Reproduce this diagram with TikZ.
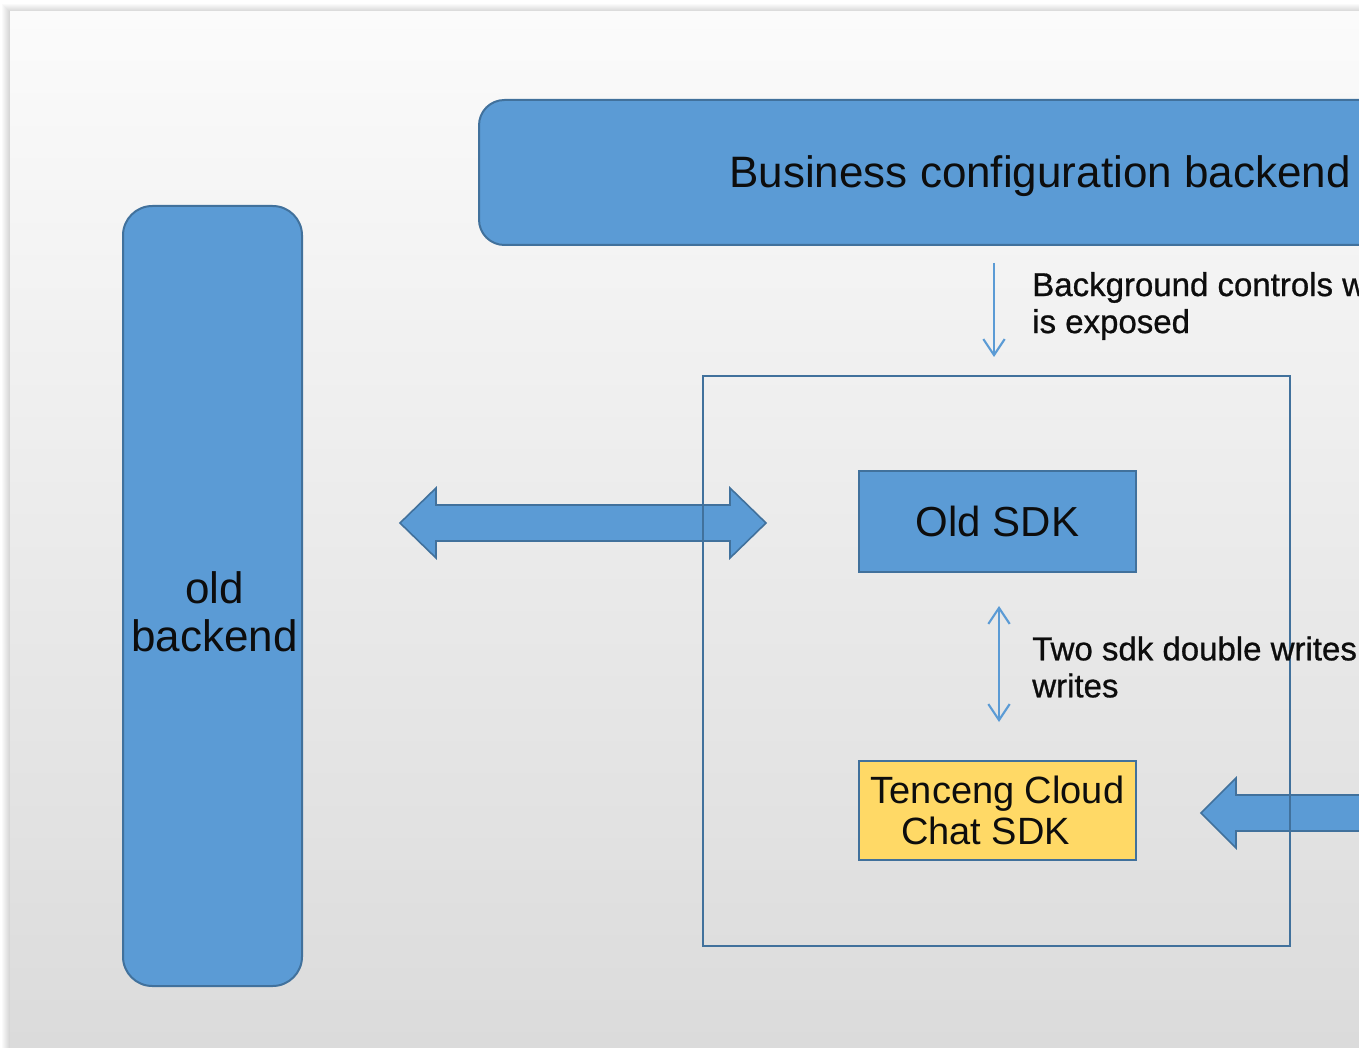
\documentclass[tikz,border=0pt]{standalone}
\usepackage{fontspec}
\setmainfont{Liberation Sans}
\newfontfamily\lblfont[FakeBold=0.8]{Liberation Sans}
\usetikzlibrary{arrows.meta}
\definecolor{boxblue}{HTML}{5B9BD5}
\definecolor{edgeblue}{HTML}{41719C}
\definecolor{sdkyellow}{HTML}{FFD966}
\definecolor{pagetop}{HTML}{FBFBFB}
\definecolor{pagemid}{HTML}{EEEEEE}
\definecolor{pagebot}{HTML}{DBDBDB}
\definecolor{txt}{HTML}{0D0D0D}
\tikzset{
  bluebox/.style={draw=edgeblue, fill=boxblue, line width=1.5pt, inner sep=0pt, text=txt},
  blockarrow/.style={draw=edgeblue, fill=boxblue, line width=1.2pt, line join=miter},
  thinarrow/.style={draw=boxblue, line width=1.6pt, arrows={-Straight Barb[length=12pt,width=16pt,line width=1.6pt]}},
  thinboth/.style={draw=boxblue, line width=1.6pt, arrows={Straight Barb[length=12pt,width=16pt,line width=1.6pt]-Straight Barb[length=12pt,width=16pt,line width=1.6pt]}},
  bigtext/.style={font=\fontsize{33}{36}\selectfont, text=txt},
  lbltext/.style={font=\lblfont\fontsize{24.75}{27.75}\selectfont, text=txt, align=left, inner sep=0pt, anchor=west},
}
\begin{document}
\begin{tikzpicture}[x=0.75pt,y=-0.75pt]
\useasboundingbox (0,0) rectangle (1359,1048);
\clip (0,0) rectangle (1359,1048);
% outside + shadow
\fill[white] (0,0) rectangle (1359,1048);
\foreach \i in {1,...,8} {
  \fill[black, opacity=0.018] (10-\i,12-\i) rectangle (1400,1100);
}
% page
\shade[top color=pagetop, middle color=pagemid, bottom color=pagebot] (10,12) rectangle (1359,1048);

% block arrows
\path[blockarrow] (400,523) -- (436,488) -- (436,505) -- (730,505) -- (730,488) -- (766,523)
  -- (730,558) -- (730,541) -- (436,541) -- (436,558) -- cycle;
\path[blockarrow] (1201,813) -- (1236,778) -- (1236,795) -- (1500,795) -- (1500,831)
  -- (1236,831) -- (1236,848) -- cycle;

% nodes
\node[bluebox, rounded corners=19pt, minimum width=841.5pt, minimum height=108.75pt, bigtext,
  text height=29pt, text depth=7pt]
  (biz) at (1040,172.5) {Business configuration backend};
\node[bluebox, rounded corners=22pt, minimum width=134.25pt, minimum height=585pt]
  (oldbe) at (212.5,596) {};
\node[bigtext, align=center, font=\fontsize{33}{36}\selectfont, inner sep=0pt]
  (oldlbl) at (214.5,612) {old\\backend};
\node[draw=edgeblue, line width=1.8pt, minimum width=440.25pt, minimum height=427.5pt, inner sep=0pt]
  (frame) at (996.5,661) {};
\node[bluebox, minimum width=207.75pt, minimum height=75.75pt, bigtext, font=\fontsize{31.5}{34}\selectfont]
  (oldsdk) at (997.5,521.5) {Old SDK};
\node[bluebox, fill=sdkyellow, minimum width=207.75pt, minimum height=74.25pt, align=center,
  font=\fontsize{28.5}{31}\selectfont]
  (tencent) at (997.5,810.5) {Tenceng Cloud\\Chat SDK\hspace*{18pt}};

% thin connectors
\coordinate (ctlA) at (994,263);
\coordinate (ctlB) at (994,357);
\draw[thinarrow] (ctlA) -- (ctlB);
\coordinate (dwA) at (999,606);
\coordinate (dwB) at (999,722);
\draw[thinboth] (dwA) -- (dwB);

% labels
\node[lbltext] (lblctl) at (1032,306) {Background controls whether it\\is exposed};
\node[lbltext] (lbldw) at (1032,667) {Two sdk double writes\\writes};
\end{tikzpicture}
\end{document}
